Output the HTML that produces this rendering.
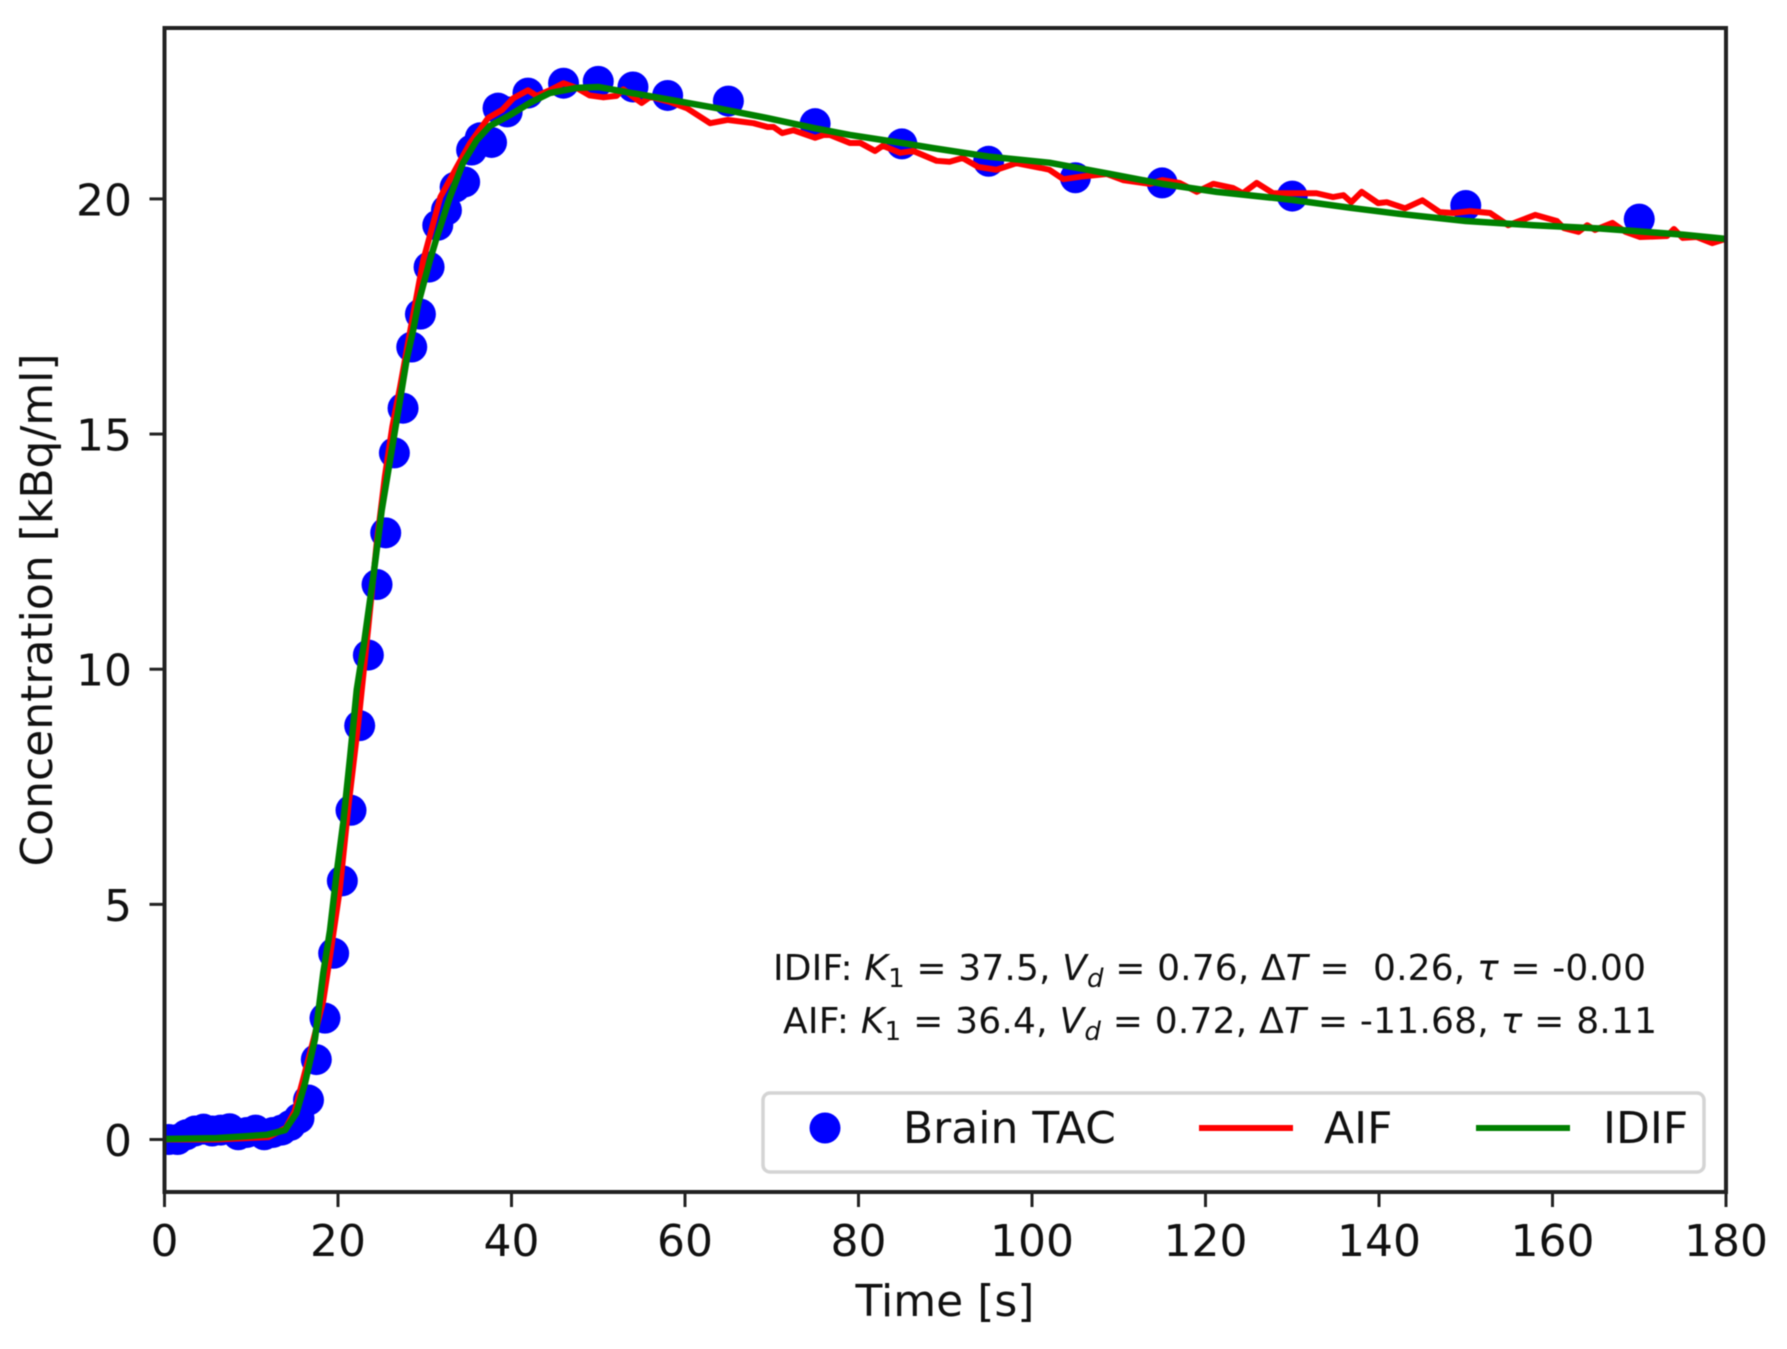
<!DOCTYPE html>
<html lang="en">
<head>
<meta charset="utf-8">
<title>Brain TAC, AIF and IDIF concentration over time</title>
<style>
html,body{margin:0;padding:0;background:#fff;}
svg{display:block;filter:blur(0.55px);}
text{font-family:"DejaVu Sans","Liberation Sans",sans-serif;fill:#111;}
</style>
</head>
<body>
<svg id="chart" xmlns="http://www.w3.org/2000/svg" width="1787" height="1349" viewBox="0 0 1787 1349">
  <defs>
    <clipPath id="plot-clip"><rect x="164.5" y="28" width="1561.5" height="1164"/></clipPath>
  </defs>
  <rect x="0" y="0" width="1787" height="1349" fill="#fff"/>
  <g id="markers" clip-path="url(#plot-clip)" fill="#0000ff"></g>
  <polyline id="aif-line" clip-path="url(#plot-clip)" fill="none" stroke="#ff0000" stroke-width="6" stroke-linejoin="round" stroke-linecap="round"/>
  <polyline id="idif-line" clip-path="url(#plot-clip)" fill="none" stroke="#008000" stroke-width="6.5" stroke-linejoin="round" stroke-linecap="round"/>
  <rect x="164.5" y="28" width="1561.5" height="1164" fill="none" stroke="#222" stroke-width="4"/>
  <g id="x-ticks"></g>
  <g id="y-ticks"></g>
  <text x="945" y="1316" font-size="44" text-anchor="middle">Time [s]</text>
  <text transform="translate(52 610) rotate(-90)" font-size="44" text-anchor="middle">Concentration [kBq/ml]</text>

  <text xml:space="preserve" x="773" y="980" font-size="36" textLength="873" lengthAdjust="spacing">IDIF: <tspan font-style="italic">K</tspan><tspan dy="7" font-size="26">1</tspan><tspan dy="-7"> = 37.5, </tspan><tspan font-style="italic">V</tspan><tspan dy="7" font-size="26" font-style="italic">d</tspan><tspan dy="-7"> = 0.76, Δ</tspan><tspan font-style="italic">T</tspan><tspan> =  0.26, </tspan><tspan font-style="italic">τ</tspan><tspan> = -0.00</tspan></text>
  <text xml:space="preserve" x="783" y="1033" font-size="36" textLength="874" lengthAdjust="spacing">AIF: <tspan font-style="italic">K</tspan><tspan dy="7" font-size="26">1</tspan><tspan dy="-7"> = 36.4, </tspan><tspan font-style="italic">V</tspan><tspan dy="7" font-size="26" font-style="italic">d</tspan><tspan dy="-7"> = 0.72, Δ</tspan><tspan font-style="italic">T</tspan><tspan> = -11.68, </tspan><tspan font-style="italic">τ</tspan><tspan> = 8.11</tspan></text>

  <g>
    <rect x="763" y="1093" width="941" height="79" rx="7" ry="7" fill="#fff" stroke="#d4d4d4" stroke-width="3.5"/>
    <circle cx="825" cy="1128" r="15.5" fill="#0000ff"/>
    <text x="903" y="1143" font-size="44">Brain TAC</text>
    <line x1="1199" y1="1128" x2="1293" y2="1128" stroke="#ff0000" stroke-width="6"/>
    <text x="1324" y="1143" font-size="44">AIF</text>
    <line x1="1476" y1="1128" x2="1570" y2="1128" stroke="#008000" stroke-width="6"/>
    <text x="1603" y="1143" font-size="44">IDIF</text>
  </g>
</svg>
<script>
const xTickLabels = [0, 20, 40, 60, 80, 100, 120, 140, 160, 180];
const yTickLabels = [0, 5, 10, 15, 20];

const tacTimes = [0.5, 1.5, 2.5, 3.5, 4.5, 5.5, 6.5, 7.5, 8.5, 9.5, 10.5, 11.5, 12.5, 13.5, 14.5, 15.5, 16.6, 17.5, 18.5, 19.5, 20.5, 21.5, 22.5, 23.5, 24.5, 25.5, 26.5, 27.5, 28.5, 29.5, 30.5, 31.5, 32.5, 33.5, 34.6, 35.4, 36.4, 37.7, 38.45, 39.5, 41.9, 46, 50, 54, 58, 65, 75, 85, 95, 105, 115, 130, 150, 170];
const tacValues = [0.0, 0.0, 0.1, 0.18, 0.22, 0.18, 0.2, 0.23, 0.1, 0.15, 0.2, 0.1, 0.15, 0.2, 0.3, 0.45, 0.84, 1.7, 2.58, 3.96, 5.5, 7.0, 8.8, 10.3, 11.8, 12.9, 14.6, 15.55, 16.85, 17.55, 18.55, 19.44, 19.76, 20.25, 20.36, 21.04, 21.3, 21.2, 21.93, 21.85, 22.25, 22.46, 22.5, 22.38, 22.2, 22.08, 21.6, 21.17, 20.8, 20.45, 20.34, 20.06, 19.86, 19.57];

const aifTimes = [0, 6, 12, 14, 15, 16, 17, 18.3, 19.08, 20.2, 21.2, 22.34, 23.5, 24.46, 25.4, 26.26, 27.15, 28.2, 29.83, 31.8, 33.7, 35.2, 37.3, 38.9, 40.2, 41.9, 42.9, 44.4, 46, 47.5, 49, 50.6, 52.1, 52.9, 54, 55, 56, 58.3, 60.2, 62.9, 64.9, 67.9, 69.5, 70.2, 71.2, 72.5, 75, 76, 76.7, 79, 80.2, 81.9, 82.8, 84.8, 86.3, 89, 90.5, 92, 93.8, 95.9, 98.2, 101, 102, 103.6, 105.9, 108.6, 110.5, 113.6, 115, 117, 119, 120.9, 123.2, 124.3, 125.9, 127.8, 130, 132.8, 134.7, 135.9, 136.8, 138, 139.9, 140.9, 143, 145, 147, 148.6, 150.5, 152.8, 154.9, 155.9, 158, 160.5, 161.3, 163, 164, 164.9, 166.9, 168.4, 170.1, 173.2, 174, 175, 176.6, 178.4, 180];
const aifValues = [0.0, 0.0, 0.05, 0.25, 0.6, 1.3, 2.0, 2.95, 3.89, 5.3, 7.08, 8.85, 10.9, 12.68, 14.1, 15.16, 16.0, 17.07, 18.7, 20.04, 20.68, 21.18, 21.72, 21.89, 22.14, 22.31, 22.19, 22.31, 22.46, 22.36, 22.2, 22.16, 22.19, 22.33, 22.17, 22.04, 22.17, 22.06, 21.93, 21.61, 21.68, 21.61, 21.53, 21.53, 21.4, 21.46, 21.3, 21.36, 21.36, 21.19, 21.19, 21.02, 21.13, 20.98, 21.02, 20.81, 20.79, 20.87, 20.68, 20.62, 20.76, 20.66, 20.62, 20.42, 20.48, 20.53, 20.4, 20.32, 20.4, 20.34, 20.15, 20.32, 20.23, 20.12, 20.34, 20.12, 20.12, 20.12, 20.04, 20.08, 19.93, 20.15, 19.91, 19.93, 19.8, 19.97, 19.72, 19.7, 19.74, 19.7, 19.44, 19.51, 19.66, 19.53, 19.38, 19.3, 19.44, 19.34, 19.49, 19.3, 19.19, 19.21, 19.36, 19.17, 19.19, 19.06, 19.15];

const idifTimes = [0, 6, 11.8, 13.9, 15.2, 16.2, 17.35, 18.3, 19.08, 19.85, 20.6, 21.4, 22.16, 23.0, 24.07, 25.04, 26, 26.95, 27.9, 28.65, 29.26, 30.6, 31.4, 32.9, 34.4, 36, 37.5, 39.8, 42.1, 44.4, 47.5, 50, 53.3, 57.9, 63.7, 69.5, 75, 79, 85, 88.6, 95, 102, 109, 115, 121.3, 130, 136.7, 142.4, 150, 157.8, 165.5, 170, 175, 180];
const idifValues = [0.01, 0.03, 0.1, 0.2, 0.56, 1.2, 2.14, 3.54, 4.45, 5.67, 6.73, 8.14, 9.56, 10.55, 11.97, 13.38, 14.45, 15.5, 16.57, 17.2, 17.78, 18.7, 19.19, 20.04, 20.76, 21.25, 21.55, 21.78, 22.04, 22.25, 22.36, 22.38, 22.27, 22.12, 21.93, 21.72, 21.5, 21.36, 21.19, 21.08, 20.9, 20.77, 20.53, 20.32, 20.15, 19.98, 19.81, 19.68, 19.53, 19.44, 19.37, 19.31, 19.24, 19.15];

const SVG_NS = 'http://www.w3.org/2000/svg';
const plot = { left: 164.5, right: 1726, bottom: 1192, top: 28 };
const xDomain = [0, 180];
const yDomain = [-1.116, 23.634];

function xScale(t) {
  return plot.left + (t - xDomain[0]) / (xDomain[1] - xDomain[0]) * (plot.right - plot.left);
}
function yScale(v) {
  return plot.bottom - (v - yDomain[0]) / (yDomain[1] - yDomain[0]) * (plot.bottom - plot.top);
}
function pointsFor(ts, vs) {
  return ts.map(function (t, i) { return xScale(t).toFixed(2) + ',' + yScale(vs[i]).toFixed(2); }).join(' ');
}

const markerGroup = document.getElementById('markers');
tacTimes.forEach(function (t, i) {
  const c = document.createElementNS(SVG_NS, 'circle');
  
  
  c.setAttribute('cx', xScale(t));
  c.setAttribute('cy', yScale(tacValues[i]));
  c.setAttribute('r', 15.5);
  markerGroup.appendChild(c);
});

document.getElementById('aif-line').setAttribute('points', pointsFor(aifTimes, aifValues));
document.getElementById('idif-line').setAttribute('points', pointsFor(idifTimes, idifValues));

const xTickGroup = document.getElementById('x-ticks');
xTickLabels.forEach(function (v) {
  const x = xScale(v);
  const tick = document.createElementNS(SVG_NS, 'line');
  
  
  tick.setAttribute('x1', x);
  tick.setAttribute('x2', x);
  tick.setAttribute('y1', plot.bottom);
  tick.setAttribute('y2', plot.bottom + 15);
  tick.setAttribute('stroke', '#222');
  tick.setAttribute('stroke-width', 3);
  xTickGroup.appendChild(tick);
  const label = document.createElementNS(SVG_NS, 'text');
  
  
  label.setAttribute('x', x);
  label.setAttribute('y', 1256);
  label.setAttribute('font-size', 44);
  label.setAttribute('text-anchor', 'middle');
  label.textContent = String(v);
  xTickGroup.appendChild(label);
});

const yTickGroup = document.getElementById('y-ticks');
yTickLabels.forEach(function (v) {
  const y = yScale(v);
  const tick = document.createElementNS(SVG_NS, 'line');
  
  
  tick.setAttribute('x1', plot.left - 15);
  tick.setAttribute('x2', plot.left);
  tick.setAttribute('y1', y);
  tick.setAttribute('y2', y);
  tick.setAttribute('stroke', '#222');
  tick.setAttribute('stroke-width', 3);
  yTickGroup.appendChild(tick);
  const label = document.createElementNS(SVG_NS, 'text');
  
  
  label.setAttribute('x', 132);
  label.setAttribute('y', y + 16.5);
  label.setAttribute('font-size', 44);
  label.setAttribute('text-anchor', 'end');
  label.textContent = String(v);
  yTickGroup.appendChild(label);
});
</script>
</body>
</html>
